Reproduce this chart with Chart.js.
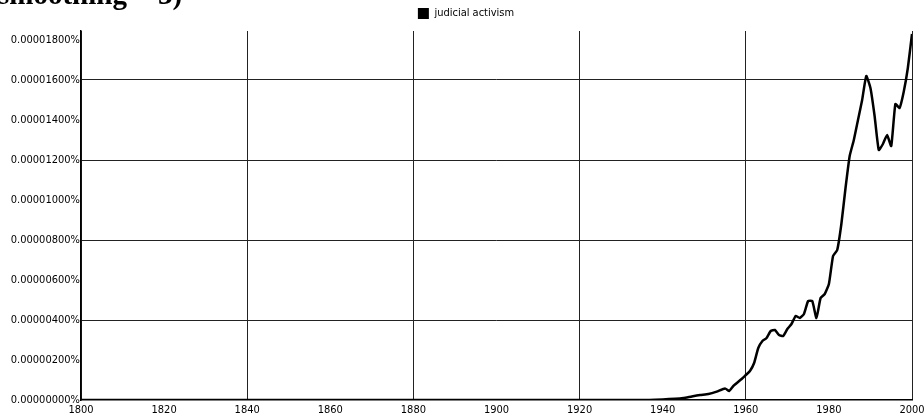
<!DOCTYPE html>
<html>
<head>
<meta charset="utf-8">
<script src="https://cdn.jsdelivr.net/npm/chart.js@4/dist/chart.umd.min.js"></script>
<style>
  html, body { margin: 0; padding: 0; background: #fff; }
  #wrap { position: relative; width: 924px; height: 417px; overflow: hidden; }
  #cut-title {
    position: absolute; left: -2px; top: -20px;
    font: bold 29px/29px "Liberation Serif", serif; color: #000;
    white-space: nowrap;
  }
</style>
</head>
<body>
<div id="wrap">
  <canvas id="ngram" width="924" height="417"></canvas>
  <div id="cut-title">smoothing = 3)</div>
</div>
<script>
// frequency in units of 0.000001 %
const years = [1800, 1900, 1935, 1940, 1943, 1945, 1947, 1949, 1951, 1953, 1955, 1956, 1957, 1959,
  1960, 1961, 1962, 1963, 1964, 1965, 1966, 1967, 1968, 1969, 1970, 1971, 1972, 1973, 1974,
  1975, 1976, 1977, 1978, 1979, 1980, 1981, 1982, 1983, 1984, 1985, 1986, 1987, 1988, 1989,
  1990, 1991, 1992, 1993, 1994, 1995, 1996, 1997, 1998, 1999, 2000];
const activism = [0, 0, 0, 0.03, 0.06, 0.1, 0.18, 0.25, 0.3, 0.42, 0.58, 0.45, 0.7, 1.05,
  1.25, 1.45, 1.85, 2.6, 2.95, 3.1, 3.45, 3.5, 3.25, 3.2, 3.55, 3.8, 4.2, 4.1, 4.3,
  4.95, 4.95, 4.1, 5.1, 5.3, 5.8, 7.2, 7.5, 8.8, 10.6, 12.2, 13.0, 14.0, 15.0, 16.2,
  15.6, 14.2, 12.5, 12.8, 13.25, 12.7, 14.8, 14.6, 15.4, 16.6, 18.3];
const seriesName = "judicial activism";

const tickFont = { family: "'Liberation Sans Narrow', 'DejaVu Sans Condensed', sans-serif", size: 11 };

// the legend in the scan sits a little right of centre
const nudgeLegend = {
  id: "nudgeLegend",
  afterLayout(chart) {
    chart.legend.left += 10;
    chart.legend.right += 10;
  },
};

new Chart(document.getElementById("ngram"), {
  type: "line",
  data: {
    datasets: [{
      label: seriesName,
      data: years.map((y, i) => ({ x: y, y: activism[i] })),
      borderColor: "#000",
      backgroundColor: "#000",
      borderWidth: 2.5,
      pointRadius: 0,
      tension: 0.15,
    }],
  },
  options: {
    responsive: false,
    animation: false,
    layout: { padding: { top: 2, right: 12, left: 0, bottom: 0 } },
    plugins: {
      tooltip: { enabled: false },
      legend: {
        position: "top",
        labels: {
          color: "#000",
          font: { family: tickFont.family, size: 11 },
          boxWidth: 11,
          boxHeight: 11,
          padding: 6,
          generateLabels: () => [{
            text: seriesName, fillStyle: "#000", strokeStyle: "#000", lineWidth: 0, datasetIndex: 0,
          }],
        },
      },
      // spacer between legend and plot
      subtitle: { display: true, text: "", weight: 500, padding: 0, font: { size: 2, lineHeight: 1 } },
    },
    scales: {
      x: {
        type: "linear",
        min: 1800,
        max: 2000,
        afterFit: (s) => { s.height = 17; s.paddingLeft = 0; s.paddingRight = 0; },
        ticks: { stepSize: 20, color: "#000", font: tickFont, padding: 4, maxRotation: 0,
          callback: (v) => String(v) },
        grid: {
          drawTicks: false,
          color: (c) => ((c.tick.value - 1800) % 40 === 0 ? "#222" : "rgba(0,0,0,0)"),
          lineWidth: 1,
        },
        border: { color: "#000", width: 1.5 },
      },
      y: {
        min: 0,
        max: 18.45,
        afterFit: (s) => { s.width = 81; },
        ticks: { stepSize: 2, includeBounds: false, color: "#000", font: tickFont, padding: 1,
          callback: (v) => (v / 1e6).toFixed(8) + "%" },
        grid: {
          drawTicks: false,
          color: (c) => (c.tick.value > 0 && c.tick.value % 4 === 0 ? "#222" : "rgba(0,0,0,0)"),
          lineWidth: 1,
        },
        border: { color: "#000", width: 1.5 },
      },
    },
  },
  plugins: [nudgeLegend],
});
</script>
</body>
</html>
